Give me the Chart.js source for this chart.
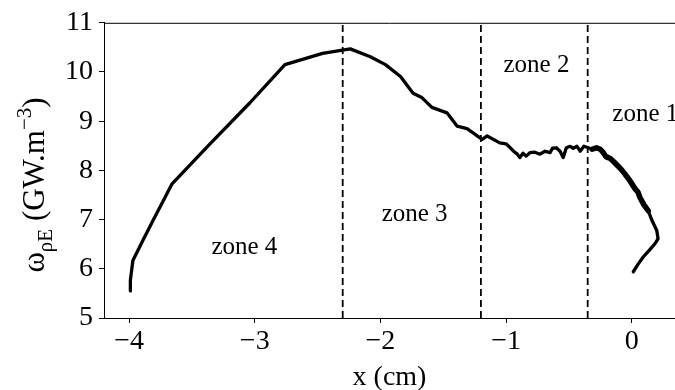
<!DOCTYPE html>
<html>
<head>
<meta charset="utf-8">
<script src="https://cdn.jsdelivr.net/npm/chart.js@4.4.1/dist/chart.umd.min.js"></script>
<style>
    body { margin: 0; background: #fff; }
    canvas { display: block; }
</style>
</head>
<body>
<canvas id="chart" width="675" height="390"></canvas>
<script>
// Curve (x in cm, y in GW.m^-3)
const xValues = [
    -3.99, -3.99, -3.98, -3.97, -3.89, -3.81, -3.66, -3.36, -3.04, -2.76, -2.46, -2.24,
    -2.08, -1.96, -1.84, -1.74, -1.67, -1.59, -1.47, -1.39, -1.31, -1.19, -1.15, -1.05,
    -1.00, -0.97, -0.94, -0.91, -0.89, -0.865, -0.84, -0.81, -0.77, -0.73, -0.69, -0.65,
    -0.63, -0.60, -0.57, -0.545, -0.52, -0.49, -0.465, -0.435, -0.41, -0.38, -0.345, -0.315,
    -0.28, -0.25, -0.225, -0.205, -0.17, -0.14, -0.117, -0.093, -0.061, -0.037, -0.014, 0.026,
    0.05, 0.066, 0.098, 0.132, 0.162, 0.20, 0.21, 0.185, 0.138, 0.092, 0.05, 0.013
];
const yValues = [
    5.55, 5.77, 5.97, 6.17, 6.58, 6.98, 7.72, 8.53, 9.37, 10.15, 10.38, 10.47,
    10.31, 10.15, 9.91, 9.57, 9.48, 9.28, 9.17, 8.90, 8.85, 8.63, 8.70, 8.56,
    8.54, 8.47, 8.39, 8.33, 8.26, 8.35, 8.29, 8.36, 8.37, 8.33, 8.39, 8.36,
    8.45, 8.46, 8.39, 8.26, 8.46, 8.49, 8.45, 8.49, 8.39, 8.49, 8.46, 8.43,
    8.46, 8.43, 8.36, 8.28, 8.24, 8.17, 8.11, 8.05, 7.95, 7.87, 7.79, 7.63,
    7.56, 7.45, 7.30, 7.18, 6.98, 6.78, 6.61, 6.51, 6.37, 6.24, 6.09, 5.94
];

const zoneBounds = [-2.3, -1.2, -0.35];
const zoneNames = ['zone 4', 'zone 3', 'zone 2', 'zone 1'];
const zoneX = [-3.345, -1.99, -1.02, -0.154];
const zoneY = [6.31, 6.98, 10.01, 9.0];

const xTicks = [-4, -3, -2, -1, 0];
const yTicks = [5, 6, 7, 8, 9, 10, 11];
const xMin = -4.2, xMax = 0.345;
const yMin = 5, yMax = 11;

const serif = "'Liberation Serif', 'Times New Roman', serif";
const minus = v => String(v).replace('-', '\u2212');

// the noisy descent in zone 1 looks like a thicker band
const thickStart = xValues.indexOf(-0.315);
const thickEnd = xValues.indexOf(0.132);

// zone labels, y title and the top spine
const extrasPlugin = {
    id: 'extras',
    afterDraw(chart) {
        const ctx = chart.ctx;
        const xs = chart.scales.x;
        const ys = chart.scales.y;
        const area = chart.chartArea;

        ctx.save();
        ctx.strokeStyle = '#000';
        ctx.lineWidth = 1;
        ctx.beginPath();
        ctx.moveTo(area.left, area.top + 0.5);
        ctx.lineTo(area.right, area.top + 0.5);
        ctx.stroke();

        ctx.fillStyle = '#000';
        ctx.font = `25px ${serif}`;
        ctx.textBaseline = 'alphabetic';
        ctx.textAlign = 'left';
        zoneNames.forEach((name, i) => {
            ctx.fillText(name, xs.getPixelForValue(zoneX[i]), ys.getPixelForValue(zoneY[i]));
        });

        // y axis title with sub- and superscripts
        const parts = [
            { t: '\u03C9', size: 31, dy: 0 },
            { t: '\u03C1E', size: 21, dy: 8 },
            { t: ' (GW.m', size: 31, dy: 0 },
            { t: '\u22123', size: 21, dy: -13 },
            { t: ')', size: 31, dy: 0 }
        ];
        let total = 0;
        parts.forEach(p => {
            ctx.font = `${p.size}px ${serif}`;
            p.w = ctx.measureText(p.t).width;
            total += p.w;
        });
        ctx.translate(44, 185);
        ctx.rotate(-Math.PI / 2);
        let pos = -total / 2;
        parts.forEach(p => {
            ctx.font = `${p.size}px ${serif}`;
            ctx.fillText(p.t, pos, p.dy);
            pos += p.w;
        });
        ctx.restore();
    }
};

const datasets = [{
    data: xValues.map((x, i) => ({ x: x, y: yValues[i] })),
    borderColor: '#000',
    borderWidth: 3.3,
    pointRadius: 0,
    showLine: true,
    tension: 0,
    borderJoinStyle: 'round',
    borderCapStyle: 'round',
    segment: {
        borderWidth: ctx => (ctx.p0DataIndex >= thickStart && ctx.p0DataIndex < thickEnd) ? 5.5 : 3.3
    }
}];
zoneBounds.forEach(b => {
    datasets.push({
        data: [{ x: b, y: yMin }, { x: b, y: yMax }],
        borderColor: '#000',
        borderWidth: 1.8,
        borderDash: [7, 4],
        pointRadius: 0,
        showLine: true
    });
});

new Chart(document.getElementById('chart'), {
    type: 'scatter',
    data: { datasets: datasets },
    options: {
        responsive: false,
        animation: false,
        devicePixelRatio: 1,
        layout: { padding: { top: 21, right: 0, left: 0, bottom: 0 } },
        plugins: {
            legend: { display: false },
            tooltip: { enabled: false }
        },
        scales: {
            x: {
                type: 'linear',
                min: xMin,
                max: xMax,
                afterFit: scale => { scale.height = 72; },
                afterBuildTicks: scale => { scale.ticks = xTicks.map(v => ({ value: v })); },
                grid: { drawOnChartArea: false, color: '#000', tickLength: 5, tickWidth: 1 },
                border: { color: '#000', width: 1 },
                ticks: {
                    color: '#000',
                    padding: 2,
                    maxRotation: 0,
                    font: { family: serif, size: 28 },
                    callback: v => minus(v)
                },
                title: {
                    display: true,
                    text: 'x (cm)',
                    color: '#000',
                    font: { family: serif, size: 28, lineHeight: 1.2 },
                    padding: { top: 0, bottom: -4 }
                }
            },
            y: {
                type: 'linear',
                min: yMin,
                max: yMax,
                afterFit: scale => { scale.width = 104; },
                afterBuildTicks: scale => { scale.ticks = yTicks.map(v => ({ value: v })); },
                grid: { drawOnChartArea: false, color: '#000', tickLength: 5, tickWidth: 1 },
                border: { color: '#000', width: 1 },
                ticks: {
                    color: '#000',
                    padding: 6,
                    font: { family: serif, size: 28 },
                    callback: v => minus(v)
                }
            }
        }
    },
    plugins: [extrasPlugin]
});
</script>
</body>
</html>
